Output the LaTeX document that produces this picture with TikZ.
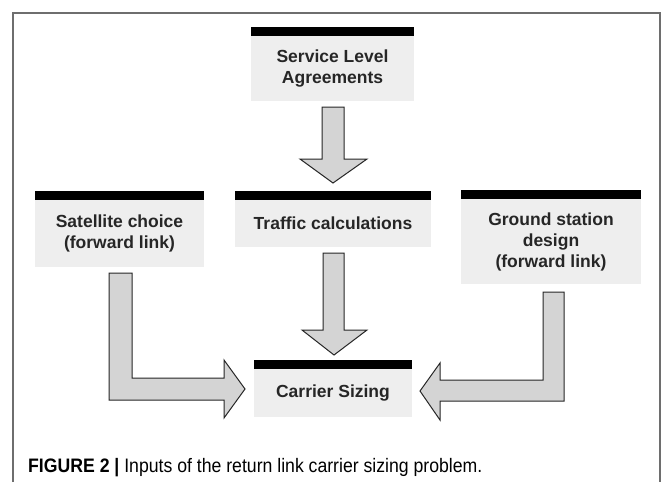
\documentclass[tikz,border=0pt]{standalone}
\usepackage{fontspec}
\setmainfont{Liberation Sans}
\newfontfamily\capfont[FakeStretch=0.905]{Liberation Sans}
\usetikzlibrary{calc}
\definecolor{boxgrey}{HTML}{EEEEEE}
\definecolor{arrowgrey}{HTML}{D4D4D4}
\definecolor{framegrey}{HTML}{6E6E6E}
\tikzset{
  inbox/.style={rectangle, fill=boxgrey, inner sep=0pt, align=center,
    font=\fontsize{17.5}{21}\selectfont\bfseries, text=black!85},
  topbar/.style={fill=black, draw=none},
  fatarrow/.style={fill=arrowgrey, draw=black!85, line width=1pt, line join=miter},
}
\begin{document}
\begin{tikzpicture}[x=1pt,y=-1pt]
\useasboundingbox (0,0) rectangle (663,482);
\fill[white] (0,0) rectangle (663,482);
% frame
\draw[framegrey, line width=1.4pt] (13,482) -- (13,13) -- (660,13) -- (660,482);

% boxes
\node[inbox, minimum width=163pt, minimum height=65pt] (sla) at (332.5,68.5) {Service Level\\Agreements};
\node[inbox, minimum width=169pt, minimum height=67pt] (sat) at (119.5,233.5) {Satellite choice\\(forward link)};
\node[inbox, minimum width=196pt, minimum height=47pt] (traf) at (333,223.5) {Traffic calculations};
\node[inbox, minimum width=180pt, minimum height=85pt] (gnd) at (551,241.5) {Ground station\\design\\(forward link)};
\node[inbox, minimum width=158pt, minimum height=48pt] (car) at (333,393) {Carrier Sizing};

% black bars
\foreach \n in {sla,sat,traf,gnd,car}{
  \fill[topbar] (\n.north west) rectangle ($(\n.north east)+(0,-9)$);
}

% arrows
\draw[fatarrow] (322,107) -- (344,107) -- (344,159) -- (367,159) -- (333,183) -- (300,159) -- (322,159) -- cycle;
\draw[fatarrow] (323,253) -- (344,253) -- (344,330) -- (367,330) -- (334,355) -- (302,330) -- (323,330) -- cycle;
\draw[fatarrow] (109,273) -- (132,273) -- (132,378) -- (224,378) -- (224,360) -- (245,389) -- (224,418) -- (224,400) -- (109,400) -- cycle;
\draw[fatarrow] (564,292) -- (543,292) -- (543,380) -- (440,380) -- (440,363) -- (420,391) -- (440,420) -- (440,401) -- (564,401) -- cycle;

% caption
\node[anchor=base west, inner sep=0pt, font=\capfont\fontsize{19.5}{22}\selectfont] (cap) at (28,472)
  {\textbf{FIGURE 2 |} Inputs of the return link carrier sizing problem.};
\end{tikzpicture}
\end{document}
